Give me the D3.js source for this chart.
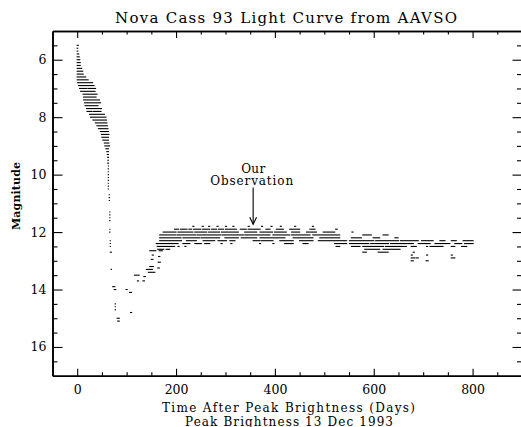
<!DOCTYPE html>
<html><head><meta charset="utf-8">
<script src="https://cdn.jsdelivr.net/npm/d3@7"></script>
<style>body{margin:0;background:#fff}svg{display:block}</style>
</head><body>
<svg id="c" width="521" height="427"></svg>
<script>
// ---------- text ----------
const chartTitle = "Nova Cass 93 Light Curve from AAVSO";
const xLabelLines = ["Time After Peak Brightness (Days)", "Peak Brightness 13 Dec 1993"];
const yLabel = "Magnitude";
const annotationLines = ["Our", "Observation"];

// ---------- axes ----------
const xDomain = [-50, 900];
const yDomain = [5, 17];
const xTicksMajor = [0, 200, 400, 600, 800];
const xTickLabels = ["0", "200", "400", "600", "800"];
const yTicksMajor = [6, 8, 10, 12, 14, 16];
const yTickLabels = ["6", "8", "10", "12", "14", "16"];

// ---------- data: runs of observations [firstDay, lastDay, magnitude] ----------
const earlyRuns = [
  [0,2,5.5],[0,1,5.6],[0,1,5.7],[0,3,5.8],[0,4,5.9],[0,5,6.0],[0,6,6.1],[0,6,6.2],
  [0,9,6.3],[0,11,6.4],[0,12,6.5],[0,17,6.6],[0,22,6.7],[1,31,6.8],[3,34,6.9],
  [5,20,7.0],[23,37,7.0],[7,36,7.1],[12,40,7.2],[13,38,7.3],[13,45,7.4],[15,47,7.5],
  [16,42,7.6],[19,49,7.7],[20,30,7.8],[33,48,7.8],[25,55,7.9],[27,58,8.0],[32,59,8.1],
  [37,60,8.2],[40,61,8.3],[43,62,8.4],[47,63,8.5],[49,64,8.6],[50,63,8.7],[52,63,8.8],
  [55,64,8.9],[56,62,9.0],[64,65,9.0],[58,63,9.1],[60,63,9.2],[61,63,9.3],[62,63,9.4],
  [62,63,9.5],[62,63,9.6]
];
const declineRuns = [
  [63,63,9.7],[63,63,9.8],[63,63,9.9],[63,63,10.0],[63,63,10.1],[63,63,10.2],[63,63,10.3],
  [63,63,10.4],[63,63,10.5],[65,65,10.7],[65,65,10.8],[65,65,10.9],[66,66,11.3],[66,66,11.4],
  [66,66,11.5],[66,66,11.6],[66,66,11.9],[66,66,12.0],[67,67,12.3],[67,67,12.4],[67,67,12.5],
  [67,69,12.7],[69,69,13.3],[72,76,13.9],[75,78,14.0],[77,77,14.5],[77,77,14.6],[77,77,14.7],
  [81,85,15.0],[82,85,15.1]
];
const recoveryRuns = [
  [99,101,14.0],[106,110,14.1],[108,110,14.8],[116,125,13.5],[122,124,13.7],[133,136,13.7],
  [135,138,13.55],[140,152,13.3],[144,157,13.4],[147,154,13.2],[150,153,12.95],[152,154,12.8],
  [163,166,13.25],[164,168,13.05],[165,167,12.85],[147,159,12.65],[166,172,12.65]
];
const plateauRuns = [
  // 11.8
  [234,236,11.8],[253,255,11.8],[266,268,11.8],[283,285,11.8],[300,302,11.8],[315,317,11.8],
  [346,348,11.8],[373,375,11.8],[392,394,11.8],[411,413,11.8],[440,442,11.8],[476,478,11.8],
  // 11.9
  [197,205,11.9],[209,222,11.9],[226,231,11.9],[235,250,11.9],[254,268,11.9],[272,282,11.9],
  [286,296,11.9],[300,322,11.9],[330,342,11.9],[346,370,11.9],[382,390,11.9],[403,417,11.9],
  [430,450,11.9],[471,481,11.9],[523,526,11.9],
  // 12.0
  [174,200,12.0],[204,234,12.0],[238,262,12.0],[266,288,12.0],[292,326,12.0],[339,363,12.0],
  [370,395,12.0],[399,423,12.0],[434,450,12.0],[464,484,12.0],[498,521,12.0],[556,558,12.0],
  // 12.1
  [167,200,12.1],[203,240,12.1],[243,290,12.1],[293,336,12.1],[339,390,12.1],[396,430,12.1],
  [434,471,12.1],[477,531,12.1],[578,595,12.1],[619,629,12.1],
  // 12.2
  [167,210,12.2],[214,248,12.2],[251,288,12.2],[299,326,12.2],[332,363,12.2],[370,420,12.2],
  [437,477,12.2],[491,531,12.2],[555,575,12.2],[599,612,12.2],[643,649,12.2],
  // 12.3
  [167,211,12.3],[221,241,12.3],[255,278,12.3],[285,302,12.3],[309,319,12.3],[356,370,12.3],
  [373,396,12.3],[410,437,12.3],[450,477,12.3],[488,545,12.3],[551,600,12.3],[604,650,12.3],
  [654,690,12.3],[697,720,12.3],[734,744,12.3],[757,767,12.3],[781,801,12.3],
  // 12.4
  [160,204,12.4],[214,228,12.4],[238,251,12.4],[258,268,12.4],[291,293,12.4],[311,313,12.4],
  [369,371,12.4],[396,398,12.4],[420,437,12.4],[457,467,12.4],[521,545,12.4],[551,590,12.4],
  [594,630,12.4],[634,680,12.4],[690,714,12.4],[724,754,12.4],[764,778,12.4],[784,801,12.4],
  // 12.5
  [162,197,12.5],[204,206,12.5],[218,220,12.5],[524,531,12.5],[555,572,12.5],[578,620,12.5],
  [624,666,12.5],[676,686,12.5],[707,709,12.5],[714,740,12.5],[757,764,12.5],[778,788,12.5],
  // 12.6 and fainter
  [163,175,12.6],[180,187,12.6],[582,612,12.6],[619,653,12.6],
  [578,585,12.7],[609,629,12.7],[680,682,12.7],
  [676,678,12.8],[707,709,12.8],[757,759,12.8],
  [676,683,12.9],[686,690,12.9],[757,764,12.9],
  [676,680,13.0],[706,710,13.0]
];
const annotationDay = 356;
const annotationTipMag = 11.73;
const annotationTailMag = 10.45;

// ---------- layout ----------
const svg = d3.select("#c");
const x = d3.scaleLinear().domain(xDomain).range([52.5, 522]);
const y = d3.scaleLinear().domain(yDomain).range([31, 375.7]);
const font = "'DejaVu Serif', serif";

// data marks
const allRuns = earlyRuns.concat(declineRuns, recoveryRuns, plateauRuns);
svg.append("g").selectAll("line").data(allRuns).join("line")
  .attr("x1", d => x(d[0]) - 0.6)
  .attr("x2", d => x(d[1]) + 0.6)
  .attr("y1", d => y(d[2]))
  .attr("y2", d => y(d[2]))
  .attr("stroke", "#000")
  .attr("stroke-width", 1.1);

// axes
const xMinor = d3.range(-50, 901, 50).filter(v => !xTicksMajor.includes(v) && v > xDomain[0] && v < xDomain[1]);
const yMinor = d3.range(5.5, 17, 0.5).filter(v => !yTicksMajor.includes(v));
function styleAxis(g) {
  g.selectAll("path.domain").attr("stroke", "#000").attr("stroke-width", 1.6);
  g.selectAll(".tick line").attr("stroke", "#000").attr("stroke-width", 1.1);
  g.selectAll("text").attr("font-family", font).attr("font-size", 12.5).attr("fill", "#000");
}
const H = 375.7, T = 31, L = 52.5, R = 521.5;
// bottom
svg.append("g").attr("transform", `translate(0,${H})`)
  .call(d3.axisBottom(x).tickValues(xTicksMajor).tickFormat((d, i) => xTickLabels[i])
    .tickSizeInner(-7).tickSizeOuter(0).tickPadding(9.5)).call(styleAxis);
svg.append("g").attr("transform", `translate(0,${H})`)
  .call(d3.axisBottom(x).tickValues(xMinor).tickFormat("").tickSizeInner(-3.5).tickSizeOuter(0)).call(styleAxis);
// top
svg.append("g").attr("transform", `translate(0,${T})`)
  .call(d3.axisTop(x).tickValues(xTicksMajor).tickFormat("").tickSizeInner(-7).tickSizeOuter(0)).call(styleAxis);
svg.append("g").attr("transform", `translate(0,${T})`)
  .call(d3.axisTop(x).tickValues(xMinor).tickFormat("").tickSizeInner(-3.5).tickSizeOuter(0)).call(styleAxis);
// left
svg.append("g").attr("transform", `translate(${L},0)`)
  .call(d3.axisLeft(y).tickValues(yTicksMajor).tickFormat((d, i) => yTickLabels[i])
    .tickSizeInner(-10).tickSizeOuter(0).tickPadding(6)).call(styleAxis);
svg.append("g").attr("transform", `translate(${L},0)`)
  .call(d3.axisLeft(y).tickValues(yMinor).tickFormat("").tickSizeInner(-5).tickSizeOuter(0)).call(styleAxis);
// right
svg.append("g").attr("transform", `translate(${R},0)`)
  .call(d3.axisRight(y).tickValues(yTicksMajor).tickFormat("").tickSizeInner(-9).tickSizeOuter(0)).call(styleAxis);
svg.append("g").attr("transform", `translate(${R},0)`)
  .call(d3.axisRight(y).tickValues(yMinor).tickFormat("").tickSizeInner(-4.5).tickSizeOuter(0)).call(styleAxis);

// title
svg.append("text").attr("x", 286).attr("y", 22.5).attr("text-anchor", "middle")
  .attr("font-family", font).attr("font-size", 15).attr("textLength", 342).attr("lengthAdjust", "spacing")
  .text(chartTitle);
// x labels
svg.append("text").attr("x", 288.5).attr("y", 411.5).attr("text-anchor", "middle")
  .attr("font-family", font).attr("font-size", 12).attr("textLength", 253).attr("lengthAdjust", "spacing")
  .text(xLabelLines[0]);
svg.append("text").attr("x", 289).attr("y", 425.5).attr("text-anchor", "middle")
  .attr("font-family", font).attr("font-size", 12).attr("textLength", 208).attr("lengthAdjust", "spacing")
  .text(xLabelLines[1]);
// y label
svg.append("text").attr("transform", "translate(19.5,196) rotate(-90)").attr("text-anchor", "middle")
  .attr("font-family", font).attr("font-weight", "bold").attr("font-size", 11)
  .attr("textLength", 68).attr("lengthAdjust", "spacing").text(yLabel);

// annotation
const ax = x(annotationDay), tipY = y(annotationTipMag), tailY = y(annotationTailMag);
svg.append("line").attr("x1", ax).attr("x2", ax).attr("y1", tailY).attr("y2", tipY)
  .attr("stroke", "#000").attr("stroke-width", 1.1);
svg.append("path").attr("d", `M${ax - 3.4},${tipY - 7}L${ax},${tipY}L${ax + 3.4},${tipY - 7}`)
  .attr("fill", "none").attr("stroke", "#000").attr("stroke-width", 1.1);
svg.append("text").attr("x", ax).attr("y", tailY - 15).attr("text-anchor", "middle")
  .attr("font-family", font).attr("font-size", 12).attr("textLength", 24).attr("lengthAdjust", "spacing")
  .text(annotationLines[0]);
svg.append("text").attr("x", ax - 1.5).attr("y", tailY - 2.5).attr("text-anchor", "middle")
  .attr("font-family", font).attr("font-size", 12).attr("textLength", 83).attr("lengthAdjust", "spacing")
  .text(annotationLines[1]);
</script>
</body></html>
